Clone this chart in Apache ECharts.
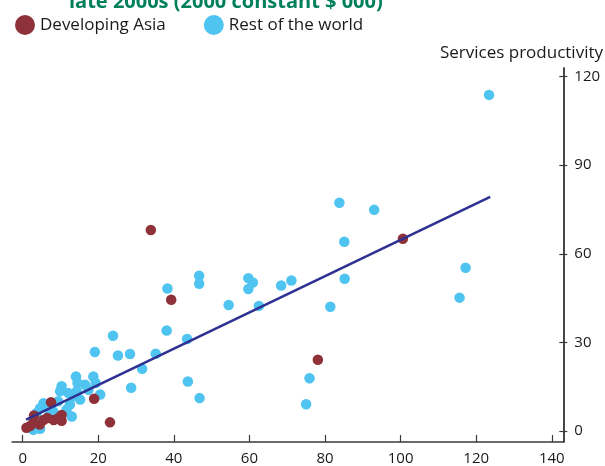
<!DOCTYPE html>
<html><head><meta charset="utf-8">
<script src="https://cdn.jsdelivr.net/npm/echarts@6/dist/echarts.min.js"></script>
<style>html,body{margin:0;padding:0;background:#fff}#c{width:605px;height:466px}</style>
</head><body><div id="c"></div>
<script>
const titleText = 'late 2000s (2000 constant $ 000)';
const seriesNames = ['Developing Asia', 'Rest of the world'];
const yAxisName = 'Services productivity';
const xTicks = [0, 20, 40, 60, 80, 100, 120, 140];
const yTicks = [0, 30, 60, 90, 120];

const asiaX = [1.0, 2.0, 2.8, 3.0, 4.5, 5.5, 6.5, 7.5, 8.2, 9.5, 10.3, 10.3, 18.9, 23.1, 33.9, 39.3, 78.1, 100.6];
const asiaY = [1.2, 1.8, 3.0, 5.3, 2.3, 3.8, 4.5, 9.8, 3.8, 4.5, 5.5, 3.5, 11.0, 3.0, 68.1, 44.5, 24.2, 65.1];

const restX = [123.4, 83.8, 93.0, 85.1, 117.2, 115.6, 85.2, 81.4, 59.7, 60.9, 59.7, 68.4, 71.1, 54.5, 62.5, 75.9, 75.0, 46.7, 46.7, 38.3, 38.1, 23.9, 43.5, 19.1, 25.2, 28.4, 35.2, 31.6, 43.7, 28.7, 46.8, 20.5, 14.1, 14.5, 16.5, 18.7, 19.3, 10.3, 9.9, 12.1, 14.3, 17.4, 13.4, 15.2, 12.5, 9.4, 11.6, 8.1, 5.5, 4.6, 3.7, 2.8, 4.6, 6.5, 13.0, 7.0, 3.5];
const restY = [113.8, 77.3, 74.9, 64.1, 55.3, 45.2, 51.6, 42.1, 51.8, 50.3, 48.1, 49.3, 51.0, 42.7, 42.4, 17.9, 9.1, 52.6, 49.9, 48.3, 34.1, 32.3, 31.2, 26.8, 25.6, 26.1, 26.2, 21.1, 16.8, 14.7, 11.2, 12.4, 18.5, 16.3, 15.7, 18.5, 16.3, 15.2, 13.5, 12.9, 13.5, 14.0, 11.8, 10.7, 9.0, 10.1, 7.3, 6.7, 9.5, 7.8, 6.2, 0.5, 0.8, 8.5, 5.0, 5.5, 3.5];

const trendX = [0.9, 123.7];
const trendY = [3.9, 79.3];

const zip = (a, b) => a.map((v, i) => [v, b[i]]);
const FONT = 'Open Sans';
const AXIS_COLOR = '#3a3a3a';

const chart = echarts.init(document.getElementById('c'));
const yBase = {
  type: 'value', position: 'right', min: -3.65, max: 122.9,
  splitLine: { show: false },
  axisLine: { show: true, onZero: false, lineStyle: { color: AXIS_COLOR, width: 1.5 } }
};
chart.setOption({
  animation: false,
  backgroundColor: '#fff',
  title: {
    text: titleText, left: 64, top: -13,
    textStyle: { fontFamily: FONT, fontSize: 20, fontWeight: 'bold', color: '#00805a' }
  },
  legend: {
    data: seriesNames, left: 10, top: 10, icon: 'circle',
    itemWidth: 20, itemHeight: 20, itemGap: 38,
    textStyle: { fontFamily: FONT, fontSize: 17, color: '#1a1a1a' }
  },
  graphic: [{
    type: 'text', right: 2, top: 45,
    style: { text: yAxisName, fontFamily: FONT, fontSize: 17, fill: '#1a1a1a' }
  }],
  grid: { left: 12, right: 41.7, top: 68, bottom: 23.7 },
  xAxis: {
    type: 'value', min: -2.83, max: 143.05,
    splitLine: { show: false },
    axisLine: { onZero: false, lineStyle: { color: AXIS_COLOR, width: 1.5 } },
    axisTick: { customValues: xTicks, inside: true, length: 7, lineStyle: { color: AXIS_COLOR, width: 1.2 } },
    axisLabel: { customValues: xTicks, margin: 9, fontFamily: FONT, fontSize: 15, color: '#1a1a1a' }
  },
  yAxis: [
    Object.assign({}, yBase, {
      axisTick: { customValues: yTicks, inside: false, length: 4, lineStyle: { color: AXIS_COLOR, width: 1.2 } },
      axisLabel: { customValues: yTicks, margin: 11, fontFamily: FONT, fontSize: 15, color: '#1a1a1a' }
    }),
    Object.assign({}, yBase, {
      axisTick: { customValues: yTicks, inside: true, length: 4, lineStyle: { color: AXIS_COLOR, width: 1.2 } },
      axisLabel: { show: false }
    })
  ],
  series: [
    {
      name: 'Rest of the world', type: 'scatter', data: zip(restX, restY),
      symbolSize: 10.5, itemStyle: { color: '#4fc4f0', opacity: 1 }, z: 2
    },
    {
      name: 'Developing Asia', type: 'scatter', data: zip(asiaX, asiaY),
      symbolSize: 10.5, itemStyle: { color: '#8e3138', opacity: 1 }, z: 3
    },
    {
      name: 'trend', type: 'line', data: zip(trendX, trendY), symbol: 'none',
      lineStyle: { color: '#2e3192', width: 2.6 }, z: 4, silent: true
    }
  ]
});
</script>
</body></html>
